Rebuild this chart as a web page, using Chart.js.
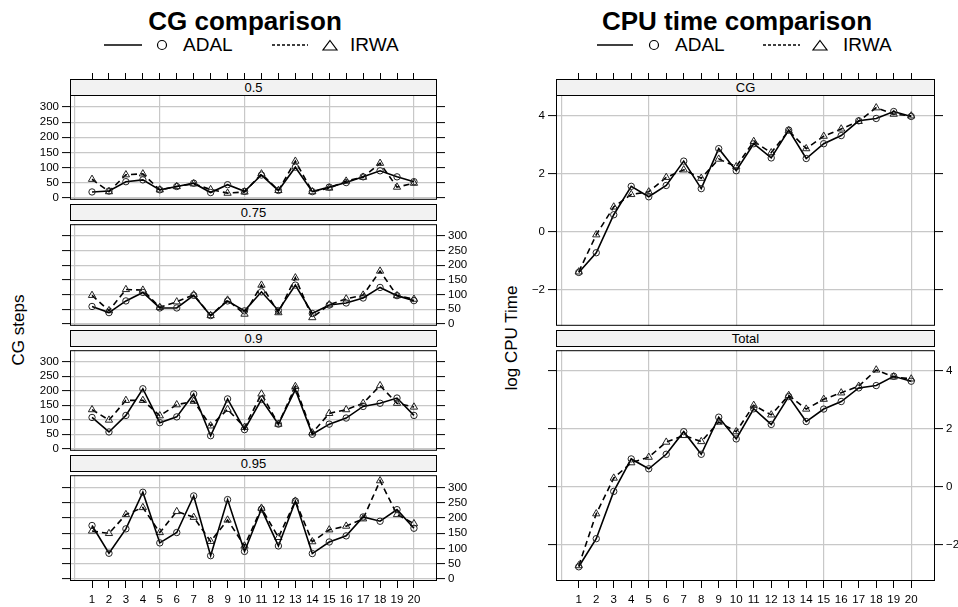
<!DOCTYPE html>
<html>
<head>
<meta charset="utf-8">
<script src="https://cdn.jsdelivr.net/npm/chart.js@4.4.1/dist/chart.umd.min.js"></script>
<style>
  body { margin: 0; width: 958px; height: 607px; position: relative; overflow: hidden; background: #fff;
         font-family: "Liberation Sans", Arial, Helvetica, sans-serif; color: #000; }
  .abs { position: absolute; }
  .title { position: absolute; top: 8px; font-size: 26px; line-height: 26px; font-weight: bold; white-space: nowrap; transform: translateX(-50%); }
  .leg { position: absolute; top: 35px; font-size: 19px; line-height: 20px; white-space: nowrap; }
  .strip { position: absolute; box-sizing: border-box; border: 1px solid #000; background: #f2f2f2;
           font-size: 13px; line-height: 15px; text-align: center; }
  .ytitle { position: absolute; font-size: 17px; white-space: nowrap; transform: translate(-50%, -50%) rotate(-90deg); }
</style>
</head>
<body>
<div class="title" style="left:245px">CG comparison</div>
<div class="title" style="left:737px">CPU time comparison</div>

<svg class="abs" style="left:0;top:35px" width="958" height="20">
  <line x1="104" y1="10" x2="142" y2="10" stroke="#000" stroke-width="1.3"/>
  <circle cx="162" cy="10" r="4.5" fill="none" stroke="#000" stroke-width="1.2"/>
  <line x1="272" y1="10" x2="308" y2="10" stroke="#000" stroke-width="1.3" stroke-dasharray="3,2"/>
  <polygon points="330,5.5 337,15 323,15" fill="none" stroke="#000" stroke-width="1.2"/>
  <line x1="597" y1="10" x2="633" y2="10" stroke="#000" stroke-width="1.3"/>
  <circle cx="654" cy="10" r="4.5" fill="none" stroke="#000" stroke-width="1.2"/>
  <line x1="763" y1="10" x2="800" y2="10" stroke="#000" stroke-width="1.3" stroke-dasharray="3,2"/>
  <polygon points="820,5.5 827,15 813,15" fill="none" stroke="#000" stroke-width="1.2"/>
</svg>
<div class="leg" style="left:183px">ADAL</div>
<div class="leg" style="left:350px">IRWA</div>
<div class="leg" style="left:675px">ADAL</div>
<div class="leg" style="left:843px">IRWA</div>

<div class="ytitle" style="left:19px;top:330px">CG steps</div>
<div class="ytitle" style="left:512px;top:338px">log CPU Time</div>

<script>
// problem index on the x axis
const runs = [1, 2, 3, 4, 5, 6, 7, 8, 9, 10, 11, 12, 13, 14, 15, 16, 17, 18, 19, 20];
const gridRuns = [0, 5, 10, 15, 20];
const stepTicks = [0, 50, 100, 150, 200, 250, 300];
const logTicks = [-2, 0, 2, 4];

// CG steps, one pair of series per tolerance panel
const cg05Adal  = [19, 22, 53, 59, 26, 37, 48, 17, 43, 21, 75, 24, 101, 20, 35, 50, 69, 89, 69, 53];
const cg05Irwa  = [61, 20, 76, 79, 26, 37, 46, 27, 15, 19, 79, 24, 121, 20, 32, 55, 68, 114, 35, 48];
const cg075Adal = [59, 38, 78, 107, 54, 54, 97, 28, 78, 44, 109, 45, 132, 35, 64, 71, 88, 124, 96, 79];
const cg075Irwa = [97, 45, 117, 115, 56, 75, 99, 28, 81, 33, 132, 38, 157, 21, 65, 85, 98, 180, 96, 84];
const cg09Adal  = [108, 58, 115, 207, 90, 110, 189, 45, 172, 66, 170, 85, 204, 50, 85, 106, 146, 157, 175, 115];
const cg09Irwa  = [135, 99, 167, 167, 114, 152, 164, 79, 136, 74, 189, 85, 215, 55, 122, 135, 157, 218, 157, 144];
const cg095Adal = [175, 84, 164, 284, 118, 152, 272, 76, 260, 90, 229, 108, 255, 83, 121, 141, 203, 189, 227, 166];
const cg095Irwa = [157, 149, 211, 234, 152, 221, 202, 123, 193, 108, 232, 136, 255, 122, 161, 173, 197, 322, 211, 181];

// log CPU time
const cpuCgAdal  = [-1.40, -0.72, 0.59, 1.57, 1.21, 1.60, 2.44, 1.49, 2.87, 2.11, 3.04, 2.55, 3.51, 2.53, 3.04, 3.32, 3.83, 3.91, 4.15, 3.98];
const cpuCgIrwa  = [-1.38, -0.10, 0.86, 1.29, 1.38, 1.88, 2.14, 1.85, 2.51, 2.25, 3.12, 2.73, 3.49, 2.87, 3.30, 3.55, 3.81, 4.28, 4.06, 4.00];
const cpuTotAdal = [-2.75, -1.78, -0.15, 0.97, 0.63, 1.13, 1.91, 1.13, 2.41, 1.66, 2.70, 2.16, 3.12, 2.26, 2.69, 2.95, 3.42, 3.50, 3.82, 3.65];
const cpuTotIrwa = [-2.71, -0.92, 0.31, 0.84, 1.03, 1.55, 1.78, 1.57, 2.24, 1.91, 2.82, 2.49, 3.16, 2.69, 3.03, 3.25, 3.48, 4.04, 3.80, 3.73];

Chart.defaults.font.family = '"Liberation Sans", Arial, Helvetica, sans-serif';
Chart.defaults.color = '#000';

const GRID = '#c8c8c8';
const X_MIN = -0.3, X_MAX = 21.36;

const framePlugin = {
    id: 'frame',
    afterDraw(chart) {
        const { ctx, chartArea: a } = chart;
        ctx.save();
        ctx.strokeStyle = '#000';
        ctx.lineWidth = 1;
        ctx.strokeRect(a.left + 0.5, a.top + 0.5, a.right - a.left - 1, a.bottom - a.top - 1);
        ctx.restore();
    }
};

function noPad(ax) {
    ax.paddingLeft = ax.paddingRight = ax.paddingTop = ax.paddingBottom = 0;
}

const fmt = v => String(v).replace('-', '\u2212');

function yAxis(g, position, showLabels, onArea, size) {
    return {
        type: 'linear', position, min: g.min, max: g.max,
        afterBuildTicks: ax => { ax.ticks = g.ticks.map(v => ({ value: v })); },
        ticks: { display: showLabels, autoSkip: false, padding: 3, font: { size: 11.5 }, callback: v => fmt(v) },
        grid: { drawOnChartArea: onArea, color: GRID, lineWidth: 1.2, tickColor: '#000', tickWidth: 1, tickLength: 8 },
        border: { display: false },
        afterFit: ax => { ax.width = size; noPad(ax); }
    };
}

function addPanel(p, g) {
    const padT = p.topTicks ? 22 : 1;
    const padB = p.bottomTicks ? 30 : 1;
    const w = g.x1 - g.x0 + g.padL + g.padR;
    const h = p.plotBottom - p.plotTop + padT + padB;

    const cv = document.createElement('canvas');
    cv.width = w;
    cv.height = h;
    cv.style.cssText = `position:absolute;left:${g.x0 - g.padL}px;top:${p.plotTop - padT}px;width:${w}px;height:${h}px`;
    document.body.appendChild(cv);

    const strip = document.createElement('div');
    strip.className = 'strip';
    strip.style.cssText = `left:${g.x0}px;top:${p.stripTop}px;width:${g.x1 - g.x0}px;height:${p.plotTop - p.stripTop + 1}px`;
    strip.textContent = p.name;
    document.body.appendChild(strip);

    const scales = {
        x: {
            type: 'linear', position: 'bottom', min: X_MIN, max: X_MAX,
            afterBuildTicks: ax => { ax.ticks = gridRuns.map(v => ({ value: v })); },
            ticks: { display: false },
            grid: { color: GRID, lineWidth: 1.2, drawTicks: false },
            border: { display: false },
            afterFit: ax => { ax.height = 0; noPad(ax); }
        },
        y: yAxis(g, 'left', p.labelSide === 'left', true, g.padL),
        y2: yAxis(g, 'right', p.labelSide === 'right', false, g.padR)
    };
    if (p.topTicks) {
        scales.xt = {
            type: 'linear', position: 'top', min: X_MIN, max: X_MAX,
            afterBuildTicks: ax => { ax.ticks = runs.map(v => ({ value: v })); },
            ticks: { display: false },
            grid: { drawOnChartArea: false, tickColor: '#000', tickWidth: 1, tickLength: padT },
            border: { display: false },
            afterFit: ax => { ax.height = padT; noPad(ax); }
        };
    }
    if (p.bottomTicks) {
        scales.xb = {
            type: 'linear', position: 'bottom', min: X_MIN, max: X_MAX,
            afterBuildTicks: ax => { ax.ticks = runs.map(v => ({ value: v })); },
            ticks: { padding: 5, font: { size: 11.5 }, autoSkip: false, maxRotation: 0 },
            grid: { drawOnChartArea: false, tickColor: '#000', tickWidth: 1, tickLength: 7 },
            border: { display: false },
            afterFit: ax => { ax.height = padB; noPad(ax); }
        };
    }

    new Chart(cv, {
        type: 'line',
        data: {
            datasets: [{
                label: 'ADAL',
                data: p.adal.map((v, k) => ({ x: runs[k], y: v })),
                borderColor: '#000',
                borderWidth: 1.6,
                pointStyle: 'circle',
                pointRadius: 3.2,
                pointBorderWidth: 1,
                pointBorderColor: '#222',
                pointBackgroundColor: 'rgba(0,0,0,0)',
                tension: 0
            }, {
                label: 'IRWA',
                data: p.irwa.map((v, k) => ({ x: runs[k], y: v })),
                borderColor: '#000',
                borderWidth: 1.6,
                borderDash: [6, 4],
                pointStyle: 'triangle',
                pointRadius: 4.2,
                pointBorderWidth: 1,
                pointBorderColor: '#222',
                pointBackgroundColor: 'rgba(0,0,0,0)',
                tension: 0
            }]
        },
        options: {
            responsive: false,
            animation: false,
            layout: { padding: { top: p.topTicks ? 0 : 1, bottom: p.bottomTicks ? 0 : 1 } },
            plugins: { legend: { display: false }, tooltip: { enabled: false } },
            scales
        },
        plugins: [framePlugin]
    });
}

const leftGroup = { x0: 70, x1: 437, padL: 40, padR: 40, min: -7, max: 340, ticks: stepTicks };
const rightGroup = { x0: 556, x1: 935, padL: 40, padR: 23, min: -3.24, max: 4.72, ticks: logTicks };

const leftPanels = [
    { name: '0.5',  adal: cg05Adal,  irwa: cg05Irwa,  stripTop: 79,  plotTop: 95,  plotBottom: 204, labelSide: 'left', topTicks: true },
    { name: '0.75', adal: cg075Adal, irwa: cg075Irwa, stripTop: 204, plotTop: 220, plotBottom: 330, labelSide: 'right' },
    { name: '0.9',  adal: cg09Adal,  irwa: cg09Irwa,  stripTop: 330, plotTop: 346, plotBottom: 455, labelSide: 'left' },
    { name: '0.95', adal: cg095Adal, irwa: cg095Irwa, stripTop: 455, plotTop: 471, plotBottom: 581, labelSide: 'right', bottomTicks: true }
];
const rightPanels = [
    { name: 'CG',    adal: cpuCgAdal,  irwa: cpuCgIrwa,  stripTop: 79,  plotTop: 95,  plotBottom: 330, labelSide: 'left', topTicks: true },
    { name: 'Total', adal: cpuTotAdal, irwa: cpuTotIrwa, stripTop: 330, plotTop: 346, plotBottom: 581, labelSide: 'right', bottomTicks: true }
];

leftPanels.forEach(p => addPanel(p, leftGroup));
rightPanels.forEach(p => addPanel(p, rightGroup));
</script>
</body>
</html>
